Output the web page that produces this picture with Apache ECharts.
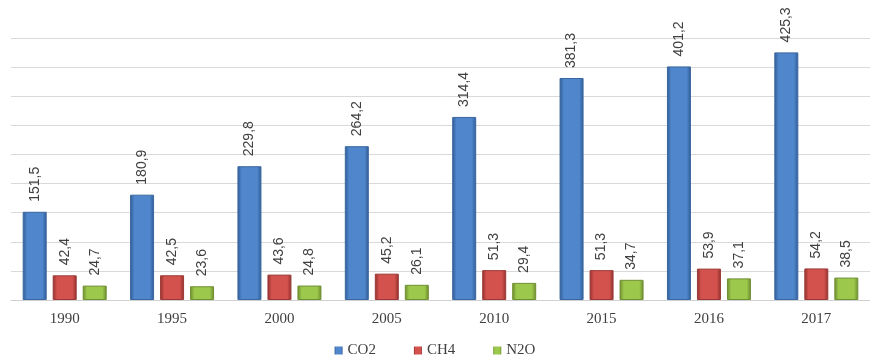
<!DOCTYPE html>
<html>
<head>
<meta charset="utf-8">
<script src="https://cdn.jsdelivr.net/npm/echarts@6/dist/echarts.min.js"></script>
<style>
  html, body { margin: 0; padding: 0; background: #fff; }
  #chart { width: 870px; height: 356px; }
</style>
</head>
<body>
<div id="chart"></div>
<script>
// Emissions by year, three gases
const years = ['1990', '1995', '2000', '2005', '2010', '2015', '2016', '2017'];
const co2 = [151.5, 180.9, 229.8, 264.2, 314.4, 381.3, 401.2, 425.3];
const ch4 = [42.4, 42.5, 43.6, 45.2, 51.3, 51.3, 53.9, 54.2];
const n2o = [24.7, 23.6, 24.8, 26.1, 29.4, 34.7, 37.1, 38.5];

// Shaded fill: darker edges, lighter middle
function shade(edge, mid) {
  return new echarts.graphic.LinearGradient(0, 0, 1, 0, [
    { offset: 0, color: edge },
    { offset: 0.18, color: mid },
    { offset: 0.82, color: mid },
    { offset: 1, color: edge }
  ]);
}

const fmt = p => String(p.value).replace('.', ',');

function makeSeries(name, data, edge, mid, border, legendColor) {
  return {
    name: name,
    type: 'bar',
    data: data,
    barWidth: 24,
    barGap: '25%',
    color: legendColor,
    itemStyle: { color: shade(edge, mid), borderColor: border, borderWidth: 1 },
    label: {
      show: true,
      position: 'top',
      rotate: 90,
      align: 'left',
      verticalAlign: 'middle',
      distance: 10,
      fontFamily: 'Liberation Sans, Arial, sans-serif',
      fontSize: 14,
      color: '#404040',
      formatter: fmt
    }
  };
}

const chart = echarts.init(document.getElementById('chart'));
chart.setOption({
  animation: false,
  backgroundColor: '#ffffff',
  grid: { left: 11, width: 869, top: 38, bottom: 56, containLabel: false },
  xAxis: {
    type: 'category',
    data: years,
    axisTick: { show: false },
    axisLine: { lineStyle: { color: '#d0d0d0', width: 1 } },
    axisLabel: {
      margin: 12,
      fontFamily: 'Liberation Serif, Times New Roman, serif',
      fontSize: 15,
      color: '#404040'
    }
  },
  yAxis: {
    type: 'value',
    min: 0,
    max: 450,
    interval: 50,
    axisLabel: { show: false },
    axisLine: { show: false },
    axisTick: { show: false },
    splitLine: { lineStyle: { color: '#d9d9d9', width: 1 } }
  },
  legend: {
    top: 338,
    left: 'center',
    itemWidth: 8,
    itemHeight: 8,
    itemGap: 38,
    icon: 'rect',
    itemStyle: { borderWidth: 0 },
    textStyle: {
      fontFamily: 'Liberation Serif, Times New Roman, serif',
      fontSize: 15,
      color: '#404040'
    }
  },
  series: [
    makeSeries('CO2', co2, '#2f5a92', '#4f86cc', '#3a679f', '#4f81bd'),
    makeSeries('CH4', ch4, '#8e2f2c', '#d4524e', '#9a3a37', '#c0504d'),
    makeSeries('N2O', n2o, '#6b8a2c', '#9cc84c', '#6f8f33', '#9bbb59')
  ]
});
</script>
</body>
</html>
